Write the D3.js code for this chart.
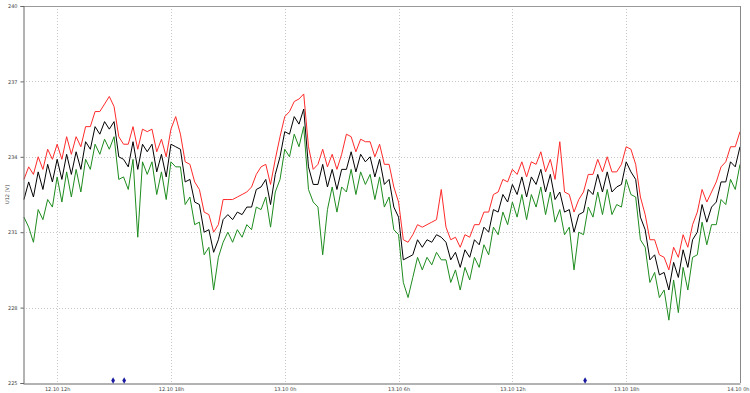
<!DOCTYPE html>
<html><head><meta charset="utf-8">
<script src="https://cdn.jsdelivr.net/npm/d3@7"></script>
<style>body{margin:0;background:#fff}svg{display:block}text{font-family:"DejaVu Sans",sans-serif}</style>
</head><body><svg id="c" width="750" height="393"></svg>
<script>
// time axis: samples every 15 min starting 12.10 10:15
const startTime = "2023-10-12T10:15:00";
const stepMinutes = 15;
const avgValues = [232.3,233.0,232.4,233.4,232.7,233.7,233.0,233.9,233.1,234.1,233.3,234.2,233.5,234.6,234.3,235.2,234.9,235.4,235.1,235.4,234.0,233.9,233.6,234.6,233.5,234.5,234.2,234.5,233.4,234.1,233.2,234.5,234.4,234.3,233.0,233.1,232.2,232.1,231.0,231.1,230.2,230.7,231.5,231.7,231.5,231.8,231.7,232.0,232.0,232.7,232.8,233.1,232.1,233.3,234.0,235.0,234.9,235.6,235.3,235.9,233.6,232.9,232.9,233.7,232.8,233.5,232.7,233.5,233.5,234.2,233.4,234.1,233.8,234.0,233.2,233.9,232.9,233.1,232.0,231.6,229.9,230.0,230.1,230.7,230.4,230.7,230.6,230.9,230.8,230.6,229.9,230.2,229.6,230.3,230.0,230.7,230.5,231.2,231.0,231.9,231.8,232.5,232.2,232.9,232.5,233.2,232.4,233.2,232.9,233.5,232.6,233.3,232.3,232.6,231.8,231.9,231.0,231.7,231.8,232.7,232.5,233.3,232.6,233.4,232.6,232.8,232.9,233.8,233.4,233.1,231.6,231.1,229.9,230.1,229.3,229.4,228.7,229.8,229.2,230.3,229.6,230.7,231.0,232.1,231.4,232.0,232.2,233.0,233.0,233.8,233.6,234.4];
const maxValues = [233.1,233.6,233.3,234.0,233.5,234.3,233.9,234.5,233.9,234.8,234.1,234.8,234.4,235.2,235.2,235.8,235.8,236.1,236.4,236.0,234.8,234.5,234.5,235.2,234.3,235.1,235.0,235.1,234.2,234.7,234.0,235.1,235.6,234.9,233.8,233.7,233.0,232.7,231.8,231.7,231.0,231.3,232.3,232.3,232.3,232.4,232.5,232.6,232.8,233.3,233.6,233.7,232.9,233.9,234.8,235.6,235.8,236.2,236.3,236.5,234.4,233.5,233.7,234.3,233.6,234.1,233.5,234.1,234.9,234.8,234.2,234.7,234.6,234.6,234.0,234.5,233.7,233.7,232.8,232.2,230.7,230.6,230.9,231.3,231.2,231.3,231.4,231.5,232.7,231.2,230.7,230.8,230.4,230.9,230.8,231.3,231.3,231.8,231.8,232.5,232.6,233.1,233.0,233.5,233.3,233.8,233.2,233.8,233.7,234.2,233.4,233.9,233.1,234.6,232.6,232.5,231.8,232.3,232.6,233.3,233.3,233.9,233.4,234.0,233.4,233.4,233.7,234.4,234.3,233.7,232.4,231.7,230.7,230.7,230.1,230.0,229.5,230.4,230.0,230.9,230.4,231.3,231.8,232.7,232.2,232.6,233.0,233.6,233.8,234.4,234.4,235.0];
const minValues = [231.6,231.2,230.6,231.9,231.5,232.3,232.0,233.2,232.2,233.4,232.4,233.5,232.6,233.9,233.5,234.5,234.1,234.7,234.3,234.8,233.1,233.2,232.7,233.9,230.8,233.8,233.3,233.8,232.5,233.4,232.3,233.8,233.6,233.6,232.1,232.4,231.3,231.4,230.1,230.4,228.7,230.0,230.6,231.0,230.6,231.1,230.8,231.3,231.1,232.0,231.9,232.4,231.2,232.6,233.1,234.3,234.0,234.9,234.4,235.2,232.7,232.2,232.0,230.1,231.9,232.8,231.8,232.8,232.6,233.5,232.5,233.4,232.9,233.3,232.3,233.2,232.0,232.4,231.1,230.9,229.0,228.4,229.2,230.0,229.5,230.0,229.7,230.2,229.9,229.9,229.0,229.5,228.7,229.6,229.1,230.0,229.6,230.5,230.1,231.2,230.9,231.8,231.3,232.2,231.6,232.5,231.5,232.5,232.0,232.8,231.7,232.6,231.4,231.9,230.9,231.2,229.5,231.0,230.9,232.0,231.6,232.6,231.7,232.7,231.7,232.1,232.0,233.1,232.5,232.4,230.7,230.4,229.0,229.4,228.4,228.7,227.5,229.1,227.8,229.6,228.7,230.0,230.1,231.4,230.5,231.3,231.3,232.3,232.1,233.1,232.7,233.7];
const eventTimes = ["2023-10-12T14:57:00","2023-10-12T15:32:00","2023-10-13T15:50:00"];
const eventLevel = 225.1;
const yTicks = [225,228,231,234,237,240];
const xTickTimes = ["2023-10-12T12:00:00","2023-10-12T18:00:00","2023-10-13T00:00:00","2023-10-13T06:00:00","2023-10-13T12:00:00","2023-10-13T18:00:00","2023-10-14T00:00:00"];
const xTickLabels = ["12.10 12h","12.10 18h","13.10 0h","13.10 6h","13.10 12h","13.10 18h","14.10 0h"];
const yTitle = "U12 [V]";

const svg = d3.select("#c");
const L = 23, R = 740, T = 6, B = 383;
const t0 = new Date(startTime);
const times = avgValues.map((_, i) => new Date(t0.getTime() + i * stepMinutes * 60000));
const x = d3.scaleTime().domain([new Date(t0.getTime() - 3*60000), new Date("2023-10-14T00:00:00")]).range([L, R]);
const y = d3.scaleLinear().domain([225, 240]).range([B, T]);

// grid
const g = svg.append("g");
g.selectAll(".hg").data(yTicks.filter(v => v > 225 && v < 240)).join("line")
  .attr("x1", L).attr("x2", R).attr("y1", d => Math.round(y(d)) + 0.5).attr("y2", d => Math.round(y(d)) + 0.5)
  .attr("stroke", "#c8c8c8").attr("stroke-dasharray", "1,2");
g.selectAll(".vg").data(xTickTimes.slice(0, -1)).join("line")
  .attr("x1", d => Math.round(x(new Date(d))) + 0.5).attr("x2", d => Math.round(x(new Date(d))) + 0.5)
  .attr("y1", T).attr("y2", B)
  .attr("stroke", "#c8c8c8").attr("stroke-dasharray", "1,2");

// series
const mk = vals => d3.line().x((d, i) => x(times[i])).y(d => y(d))(vals);
svg.append("path").attr("d", mk(minValues)).attr("fill", "none").attr("stroke", "#1e8c1e").attr("stroke-width", 1);
svg.append("path").attr("d", mk(maxValues)).attr("fill", "none").attr("stroke", "#ff2a2a").attr("stroke-width", 1);
svg.append("path").attr("d", mk(avgValues)).attr("fill", "none").attr("stroke", "#000").attr("stroke-width", 1);

// frame
svg.append("line").attr("x1", L).attr("x2", R).attr("y1", T + 0.5).attr("y2", T + 0.5).attr("stroke", "#999");
svg.append("line").attr("x1", R + 0.5).attr("x2", R + 0.5).attr("y1", T).attr("y2", B).attr("stroke", "#888");
// axes
const yAxis = d3.axisLeft(y).tickValues(yTicks).tickSize(3).tickFormat(d3.format("d"));
const ya = svg.append("g").attr("transform", `translate(${L + 0.5},0)`).call(yAxis);
ya.select(".domain").attr("stroke", "#666");
ya.selectAll(".tick line").attr("stroke", "#666");
ya.selectAll("text").attr("font-size", 5).attr("fill", "#444");
const xAxis = d3.axisBottom(x).tickValues(xTickTimes.map(d => new Date(d))).tickSize(0)
  .tickFormat((d, i) => xTickLabels[i]);
const xa = svg.append("g").attr("transform", `translate(0,${B + 0.5})`).call(xAxis);
xa.select(".domain").attr("stroke", "#666");
xa.selectAll("text").attr("font-size", 5).attr("fill", "#444").attr("dy", "0.9em");
xa.selectAll(".tick").filter((d, i, n) => i === n.length - 1).select("text")
  .attr("text-anchor", "end").attr("x", 9);

svg.append("text").attr("transform", `translate(9,${(T + B) / 2}) rotate(-90)`)
  .attr("text-anchor", "middle").attr("font-size", 5).attr("fill", "#444").text(yTitle);

// event markers
svg.selectAll(".ev").data(eventTimes).join("path")
  .attr("d", d3.symbol().type(d3.symbolDiamond).size(12))
  .attr("transform", d => `translate(${x(new Date(d))},${y(eventLevel)})`)
  .attr("fill", "#1a1aa0");
</script></body></html>
